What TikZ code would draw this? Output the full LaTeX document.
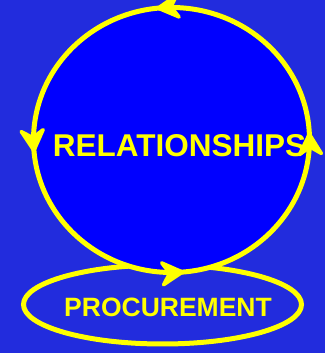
\documentclass[tikz,border=0pt]{standalone}
\usepackage{fontspec}
\setmainfont{Liberation Sans}
\definecolor{bgblue}{RGB}{34,44,221}
\definecolor{inblue}{RGB}{0,0,255}
\definecolor{ylw}{RGB}{255,255,0}
\tikzset{
  ring/.style={draw=ylw,line width=5pt},
  label/.style={text=ylw,inner sep=0pt,anchor=base},
  headshape/.style={fill=ylw,draw=ylw,line width=3.5pt,line join=round},
}
\newcommand{\ringhead}[2]{%
  \begin{scope}[shift={(#1)},rotate=#2]
  \path[headshape] (-1,0) -- (-21,11) -- (-14,0) -- (-21,-11) -- cycle;
  \end{scope}}
\begin{document}
\begin{tikzpicture}[x=1pt,y=1pt]
\useasboundingbox[fill=bgblue] (0,0) rectangle (325,353);
\coordinate (pc) at (162.5,48.5);
\coordinate (rc) at (171.5,213);
\draw[ring] (pc) ellipse [x radius=139,y radius=39.5];
\draw[ring,fill=inblue] (rc) ellipse [x radius=138,y radius=132.5];
\path (rc) ++(3:138 and 132.5) coordinate (hr);
\path (rc) ++(96:138 and 132.5) coordinate (ht);
\path (rc) ++(185:138 and 132.5) coordinate (hl);
\path (rc) ++(275:138 and 132.5) coordinate (hb);
\ringhead{hr}{93}
\ringhead{ht}{186}
\ringhead{hl}{275}
\ringhead{hb}{5}
\node[label,font=\fontsize{31.5}{31.5}\selectfont\bfseries] (rel) at (179.5,196) {RELATIONSHIPS};
\node[label,font=\fontsize{26.5}{26.5}\selectfont\bfseries] (proc) at (168,36) {PROCUREMENT};
\end{tikzpicture}
\end{document}
